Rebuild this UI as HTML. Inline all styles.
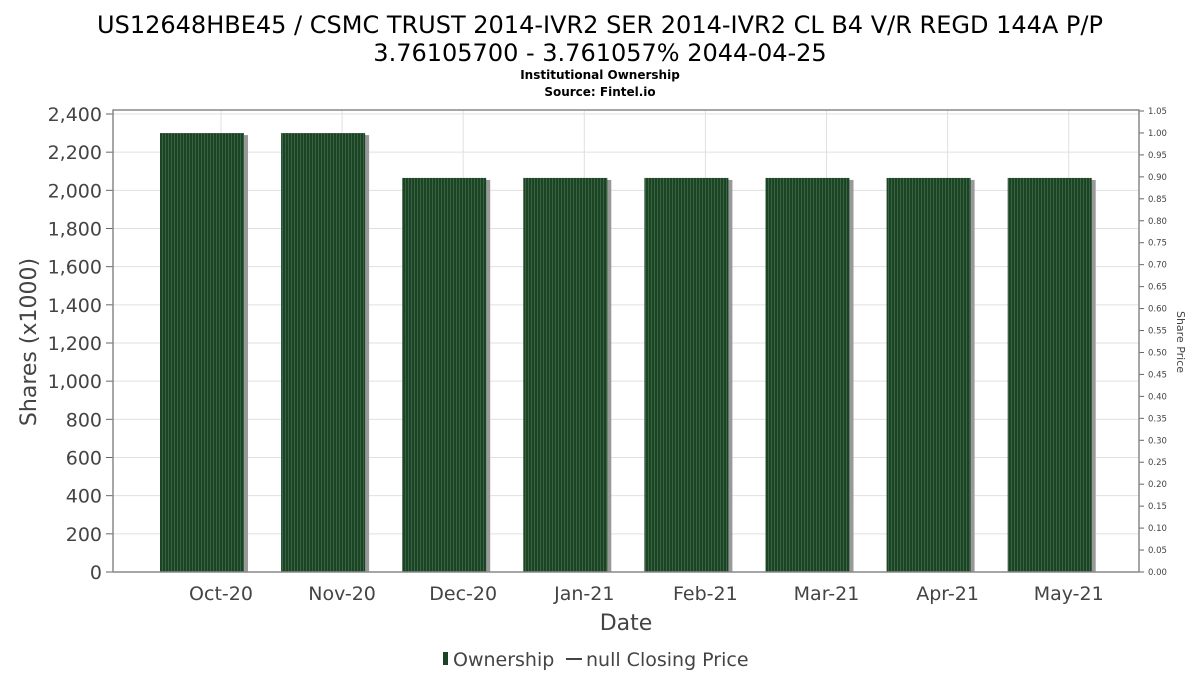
<!DOCTYPE html>
<html><head><meta charset="utf-8"><style>body{margin:0;background:#fff}svg text{font-family:"DejaVu Sans","Liberation Sans",sans-serif}</style></head>
<body>
<svg id="c" width="1200" height="675" viewBox="0 0 1200 675">
<defs><pattern id="st" width="3" height="10" patternUnits="userSpaceOnUse"><rect width="3" height="10" fill="#1a4424"/><rect width="0.8" height="10" fill="#3f6a48"/></pattern></defs>
<text x="600" y="33" font-size="24" text-anchor="middle">US12648HBE45 / CSMC TRUST 2014-IVR2 SER 2014-IVR2 CL B4 V/R REGD 144A P/P</text>
<text x="600" y="61" font-size="24" text-anchor="middle">3.76105700 - 3.761057% 2044-04-25</text>
<text x="600" y="79" font-size="12" font-weight="bold" text-anchor="middle">Institutional Ownership</text>
<text x="600" y="96" font-size="12" font-weight="bold" text-anchor="middle">Source: Fintel.io</text>
<g id="grid"></g><g id="bars"></g><g id="axes"></g>
<rect x="113" y="110" width="1026" height="462" fill="none" stroke="#888" stroke-width="1.5"/>
<text transform="translate(36,342) rotate(-90)" font-size="22" fill="#444" text-anchor="middle">Shares (x1000)</text>
<text transform="translate(1177,342) rotate(90)" font-size="11" fill="#444" text-anchor="middle">Share Price</text>
<text x="626" y="630" font-size="22" fill="#444" text-anchor="middle">Date</text>
<g>
<rect x="443" y="652" width="5" height="13" fill="#1a4424"/>
<text x="453" y="666" font-size="19" fill="#444">Ownership</text>
<line x1="566" y1="659" x2="582" y2="659" stroke="#444" stroke-width="2"/>
<text x="586" y="666" font-size="19" fill="#444">null Closing Price</text>
</g>
</svg>
<script>
const categories=["Oct-20","Nov-20","Dec-20","Jan-21","Feb-21","Mar-21","Apr-21","May-21"];
const ownership=[2300,2300,2065,2065,2065,2065,2065,2065];
const yTicks=[0,200,400,600,800,1000,1200,1400,1600,1800,2000,2200,2400];
const priceTicks=[0,0.05,0.1,0.15,0.2,0.25,0.3,0.35,0.4,0.45,0.5,0.55,0.6,0.65,0.7,0.75,0.8,0.85,0.9,0.95,1.0,1.05];
const NS="http://www.w3.org/2000/svg";
const y0=572,y1=114;
const Y=v=>y0-(v/2400)*(y0-y1);
const P=v=>572-(v/1.05)*(572-111);
const X=i=>160+i*121.1;
function mk(t,a,p){const e=document.createElementNS(NS,t);for(const k in a)e.setAttribute(k,a[k]);p.appendChild(e);return e;}
const g=document.getElementById('grid'),b=document.getElementById('bars'),ax=document.getElementById('axes');
yTicks.forEach(v=>{
 const l=mk('line',{x1:113,x2:1139,y1:Y(v),y2:Y(v),stroke:'#e0e0e0'},g);
 
 
 const tk=mk('line',{x1:106,x2:113,y1:Y(v),y2:Y(v),stroke:'#666'},ax);
 
 
 const t=mk('text',{x:102,y:Y(v)+7,'font-size':19,fill:'#444','text-anchor':'end'},ax);
 t.textContent=v.toLocaleString('en-US');
 
 
});
priceTicks.forEach(v=>{
 const tk=mk('line',{x1:1139,x2:1144,y1:P(v),y2:P(v),stroke:'#666'},ax);
 
 
 const t=mk('text',{x:1148,y:P(v)+3,'font-size':8.5,fill:'#444'},ax);
 t.textContent=v.toFixed(2);
 
 
});
categories.forEach((c,i)=>{
 const cx=X(i)+61;
 const gl=mk('line',{x1:cx,x2:cx,y1:110,y2:572,stroke:'#e0e0e0'},g);
 
 
 const sh=mk('rect',{x:X(i)+4,y:Y(ownership[i])+2,width:84,height:y0-Y(ownership[i])-2,fill:'#999'},b);
 
 
 const r=mk('rect',{x:X(i),y:Y(ownership[i]),width:84,height:y0-Y(ownership[i]),fill:'url(#st)'},b);
 
 
 const t=mk('text',{x:cx,y:600,'font-size':19,fill:'#444','text-anchor':'middle'},ax);
 t.textContent=c;
 
 
});
</script>
</body></html>
